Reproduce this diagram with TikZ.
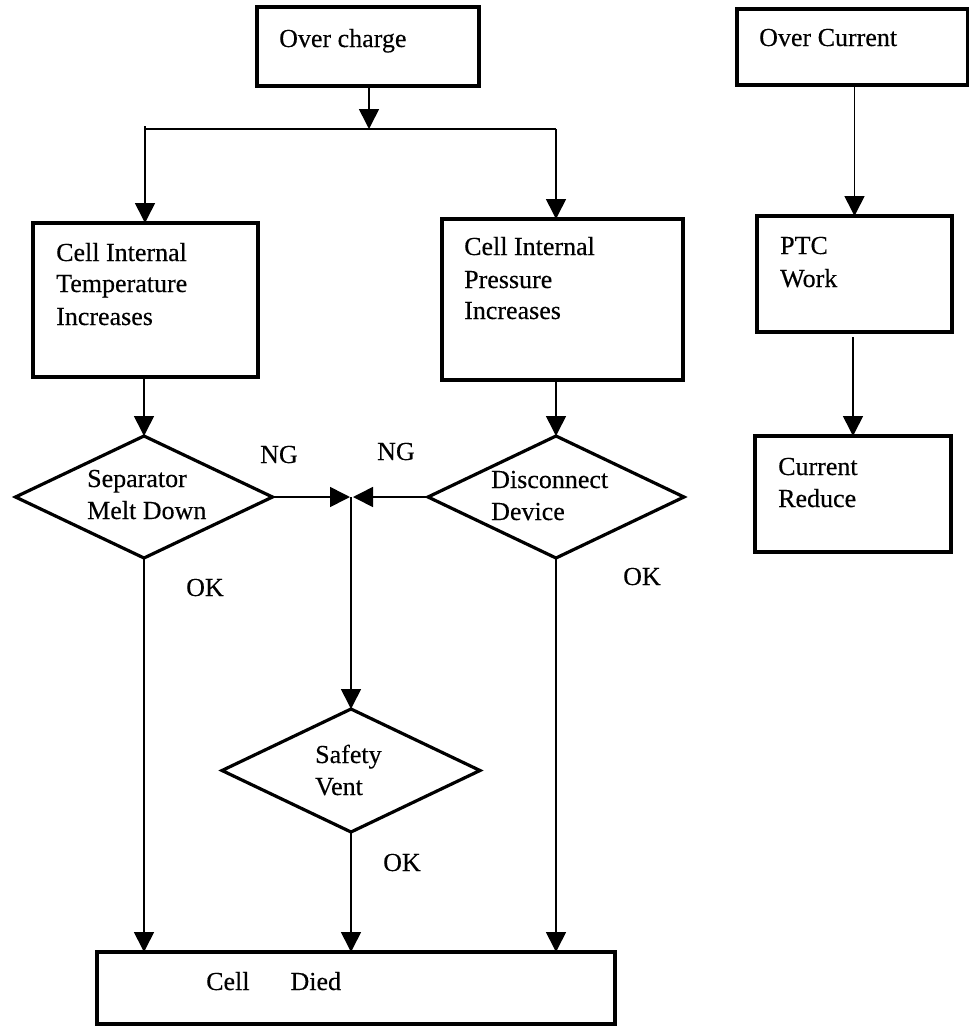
\documentclass[tikz,border=0pt]{standalone}
\usepackage{fontspec}
\setmainfont{Liberation Serif}
\usetikzlibrary{arrows.meta,shapes.geometric}
\begin{document}
\begin{tikzpicture}[x=1pt,y=-1pt,
  box/.style={draw,line width=3.4pt,inner sep=0pt,outer sep=0pt},
  dia/.style={draw,diamond,line width=3.2pt,inner sep=0pt,outer sep=0pt},
  conn/.style={line width=1.6pt},
  arr/.style={line width=1.6pt,-{Triangle[length=20pt,width=20pt]}},
  txt/.style={font=\fontsize{26}{32}\selectfont\addfontfeature{FakeBold=0.3},inner sep=0pt,anchor=base west}]
\useasboundingbox (0,0) rectangle (969,1026);
\clip (0,0) rectangle (969,1026);
% boxes
\node[box,minimum width=222pt,minimum height=79pt] (oc) at (368,46.5) {};
\node[box,minimum width=231pt,minimum height=76pt] (ocur) at (852.5,47) {};
\node[box,minimum width=225pt,minimum height=154pt] (temp) at (145.5,300) {};
\node[box,minimum width=241pt,minimum height=161pt] (pres) at (562.5,299.5) {};
\node[box,minimum width=195pt,minimum height=116pt] (ptc) at (854.5,274) {};
\node[box,minimum width=196pt,minimum height=116pt] (cr) at (853,494) {};
\node[box,minimum width=518pt,minimum height=72pt] (died) at (356,988) {};
% diamonds
\node[dia,minimum width=257pt,minimum height=122pt] (sep) at (144,497) {};
\node[dia,minimum width=256pt,minimum height=122pt] (dis) at (556,497) {};
\node[dia,minimum width=258pt,minimum height=123pt] (vent) at (351,770.5) {};
% texts
\node[txt] (toc) at (279,47) {Over charge};
\node[txt] (tocur) at (759,46) {Over Current};
\node[txt] (t1) at (56,261) {Cell Internal};
\node[txt] (t2) at (56,292) {Temperature};
\node[txt] (t3) at (56,325) {Increases};
\node[txt] (p1) at (464,255) {Cell Internal};
\node[txt] (p2) at (464,288) {Pressure};
\node[txt] (p3) at (464,319) {Increases};
\node[txt] (s1) at (87,487) {Separator};
\node[txt] (s2) at (87,519) {Melt Down};
\node[txt] (d1) at (491,488) {Disconnect};
\node[txt] (d2) at (491,520) {Device};
\node[txt] (v1) at (315,763) {Safety};
\node[txt] (v2) at (315,795) {Vent};
\node[txt] (pt1) at (780,254) {PTC};
\node[txt] (pt2) at (780,287) {Work};
\node[txt] (c1) at (778,475) {Current};
\node[txt] (c2) at (778,507) {Reduce};
\node[txt] (dt) at (206,990) {Cell\hspace*{41pt}Died};
\node[txt] (ng1) at (260,463) {NG};
\node[txt] (ng2) at (377,460) {NG};
\node[txt] (ok1) at (186,596) {OK};
\node[txt] (ok2) at (623,585) {OK};
\node[txt] (ok3) at (383,871) {OK};
% connectors
\coordinate (split) at (369,129);
\coordinate (bl) at (145,129);
\coordinate (bltop) at (145,126);
\coordinate (br) at (556,129);
\coordinate (J) at (351,497);
\draw[arr] (oc.south -| split) -- (split);
\draw[conn] (bl) -- (br);
\draw[arr] (bltop) -- (bltop |- temp.north);
\draw[arr] (br) -- (br |- pres.north);
\draw[arr] (temp.south -| sep.north) -- (sep.north);
\draw[arr] (pres.south -| dis.north) -- (dis.north);
\draw[arr] (sep.east) -- ([xshift=-1pt]J);
\draw[arr] (dis.west) -- ([xshift=2pt]J);
\draw[arr] (J) -- (vent.north);
\draw[arr] (sep.south) -- (sep.south |- died.north);
\draw[arr] (vent.south) -- (vent.south |- died.north);
\draw[arr] (dis.south) -- (dis.south |- died.north);
\draw[arr] (ocur.south -| ptc.north) -- (ptc.north);
\draw[arr] ([yshift=-5pt]ptc.south -| cr.north) -- (cr.north);
\end{tikzpicture}
\end{document}
